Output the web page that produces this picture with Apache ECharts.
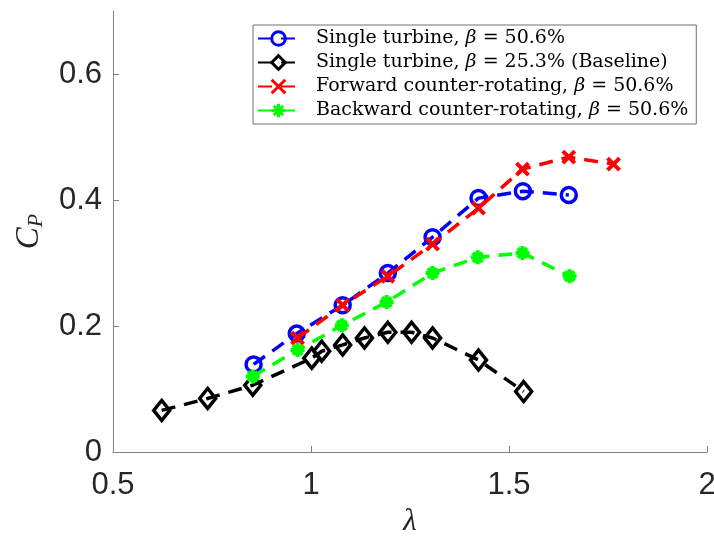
<!DOCTYPE html>
<html>
<head>
<meta charset="utf-8">
<script src="https://cdn.jsdelivr.net/npm/echarts@6/dist/echarts.min.js"></script>
<style>
html,body{margin:0;padding:0;background:#fff;}
#chart{width:714px;height:536px;}
</style>
</head>
<body>
<div id="chart"></div>
<script>
// ---- data ----
const seriesNames = [
  'Single turbine, β = 50.6%',
  'Single turbine, β = 25.3% (Baseline)',
  'Forward counter-rotating, β = 50.6%',
  'Backward counter-rotating, β = 50.6%'
];
const lambdaSingle50 = [0.855, 0.964, 1.080, 1.194, 1.307, 1.423, 1.535, 1.651];
const cpSingle50     = [0.139, 0.188, 0.233, 0.284, 0.341, 0.403, 0.414, 0.408];
const lambdaBaseline = [0.623, 0.739, 0.853, 1.002, 1.027, 1.080, 1.135, 1.194, 1.254, 1.307, 1.423, 1.537];
const cpBaseline     = [0.066, 0.085, 0.106, 0.149, 0.160, 0.170, 0.181, 0.190, 0.190, 0.181, 0.146, 0.096];
const lambdaForward  = [0.966, 1.080, 1.194, 1.307, 1.423, 1.534, 1.651, 1.764];
const cpForward      = [0.181, 0.233, 0.279, 0.330, 0.387, 0.449, 0.468, 0.457];
const lambdaBackward = [0.853, 0.966, 1.078, 1.191, 1.307, 1.421, 1.534, 1.653];
const cpBackward     = [0.120, 0.162, 0.201, 0.238, 0.284, 0.309, 0.316, 0.279];
const xTicks = [0.5, 1, 1.5, 2];
const yTicks = [0, 0.2, 0.4, 0.6];

function pairs(xs, ys) { return xs.map((x, i) => [x, ys[i]]); }

const circleShape = 'path://M10,0A10,10,0,1,1,10,20A10,10,0,1,1,10,0Z';
const diamondShape = 'path://M5,0L10,6L5,12L0,6Z';
const xShape = 'path://M0,0L10,10M10,0L0,10';
const starShape = 'path://M5,0L5,10M0,5L10,5M1.6,1.6L8.4,8.4M8.4,1.6L1.6,8.4';
const dash = [14, 9];
const clear = 'rgba(0,0,0,0)';

const chart = echarts.init(document.getElementById('chart'), null, {renderer: 'canvas'});
const tickFont = {fontFamily: '"Liberation Sans", Arial, sans-serif', fontSize: 31, color: '#262626'};
const legFont = '"DejaVu Serif", serif';

const option = {
  animation: false,
  backgroundColor: '#ffffff',
  grid: {left: 113, right: 7, top: 11, bottom: 84, containLabel: false, outerBoundsMode: 'none'},
  legend: {
    left: 253, top: 25, orient: 'vertical',
    backgroundColor: '#ffffff', borderColor: '#707070', borderWidth: 1,
    padding: [4, 8, 4, 4], itemWidth: 41, itemHeight: 17, itemGap: 5,
    itemStyle: {borderWidth: 3},
    data: seriesNames,
    textStyle: {
      fontFamily: legFont, fontSize: 19, color: '#000', padding: [0, 0, 0, 12],
      rich: {
        n: {fontFamily: legFont, fontSize: 19, color: '#000'},
        b: {fontFamily: legFont, fontSize: 19, fontStyle: 'italic', color: '#000'}
      }
    },
    formatter: function (name) {
      const parts = name.split('β');
      return '{n|' + parts[0] + '}{b|β}{n|' + parts[1] + '}';
    }
  },
  xAxis: {
    type: 'value', min: 0.5, max: 2, interval: 0.5,
    name: 'λ', nameLocation: 'middle', nameGap: 47,
    nameTextStyle: {fontFamily: '"Liberation Serif", serif', fontStyle: 'italic', fontSize: 31, color: '#262626'},
    axisLine: {show: true, lineStyle: {color: '#808080', width: 1}},
    axisTick: {show: true, inside: true, length: 6, lineStyle: {color: '#808080'}, customValues: xTicks},
    axisLabel: Object.assign({margin: 18, customValues: xTicks, formatter: v => String(v)}, tickFont),
    splitLine: {show: false}
  },
  yAxis: {
    type: 'value', min: 0, max: 0.7, interval: 0.2,
    name: '{c|C}{p|P}', nameLocation: 'middle', nameGap: 66, nameRotate: 90,
    nameTextStyle: {
      rich: {
        c: {fontFamily: '"Liberation Serif", serif', fontStyle: 'italic', fontSize: 33, color: '#262626'},
        p: {fontFamily: '"Liberation Serif", serif', fontStyle: 'italic', fontSize: 22, color: '#262626', verticalAlign: 'bottom', padding: [14, 0, 0, 0]}
      }
    },
    axisLine: {show: true, lineStyle: {color: '#808080', width: 1}},
    axisTick: {show: true, inside: true, length: 6, lineStyle: {color: '#808080'}, customValues: yTicks},
    axisLabel: Object.assign({margin: 11, customValues: yTicks, formatter: v => String(v)}, tickFont),
    splitLine: {show: false}
  },
  series: [
    {
      name: seriesNames[0], type: 'line', data: pairs(lambdaSingle50, cpSingle50),
      symbol: circleShape, symbolSize: 15,
      lineStyle: {color: '#0000ff', width: 3.5, type: dash},
      itemStyle: {color: clear, borderColor: '#0000ff', borderWidth: 3.5}, z: 2
    },
    {
      name: seriesNames[1], type: 'line', data: pairs(lambdaBaseline, cpBaseline),
      symbol: diamondShape, symbolSize: [16, 20],
      lineStyle: {color: '#000000', width: 3.5, type: dash},
      itemStyle: {color: clear, borderColor: '#000000', borderWidth: 3.5}, z: 3
    },
    {
      name: seriesNames[2], type: 'line', data: pairs(lambdaForward, cpForward),
      symbol: xShape, symbolSize: 12,
      lineStyle: {color: '#ff0000', width: 3.5, type: dash},
      itemStyle: {color: '#ff0000', borderColor: '#ff0000', borderWidth: 4}, z: 4
    },
    {
      name: seriesNames[3], type: 'line', data: pairs(lambdaBackward, cpBackward),
      symbol: starShape, symbolSize: 14,
      lineStyle: {color: '#00ff00', width: 3.5, type: dash},
      itemStyle: {color: '#00ff00', borderColor: '#00ff00', borderWidth: 4}, z: 5
    }
  ]
};
chart.setOption(option);
</script>
</body>
</html>
